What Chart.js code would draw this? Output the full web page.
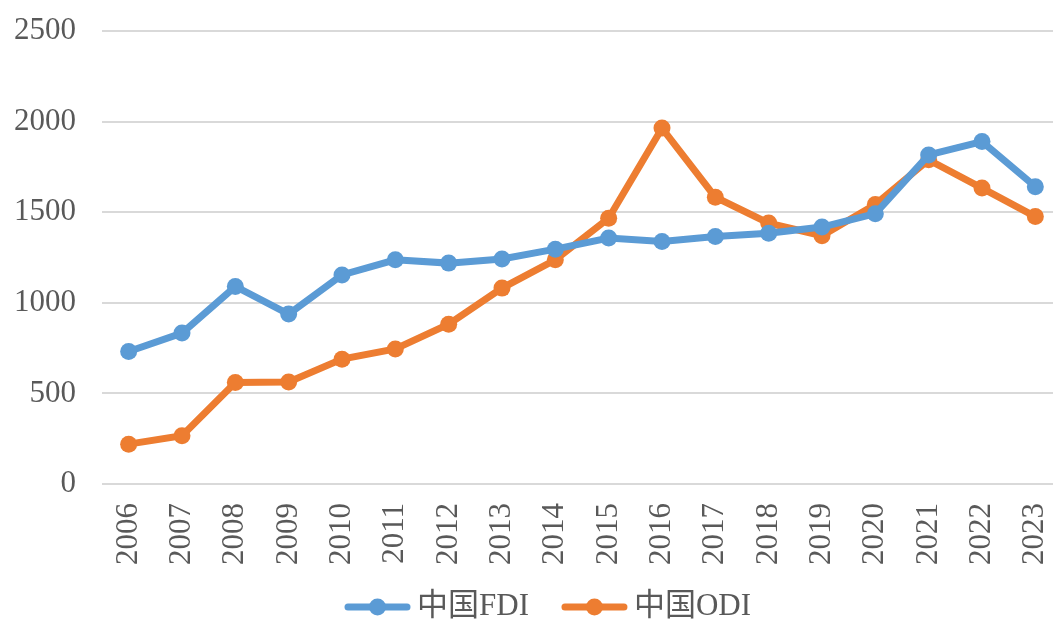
<!DOCTYPE html>
<html>
<head>
<meta charset="utf-8">
<script src="https://cdn.jsdelivr.net/npm/chart.js@4"></script>
<style>
  html, body { margin: 0; padding: 0; background: #fff; overflow: hidden; }
</style>
</head>
<body>
<canvas id="myChart" width="1053" height="626"></canvas>
<script>
var years = ['2006','2007','2008','2009','2010','2011','2012','2013','2014',
             '2015','2016','2017','2018','2019','2020','2021','2022','2023'];
var fdi = [731, 833, 1090, 938, 1154, 1237, 1219, 1242, 1296,
           1357, 1338, 1366, 1384, 1418, 1492, 1816, 1890, 1641];
var odi = [220, 266, 560, 563, 689, 745, 882, 1081, 1237,
           1467, 1964, 1583, 1440, 1370, 1543, 1789, 1633, 1476];

var blue = '#5b9bd5';
var orange = '#ed7d31';
var textColor = '#595959';
var fontFamily = '"Liberation Serif", "Times New Roman", "Noto Sans CJK SC", serif';

// the plot area in the source runs a little past the right edge of the picture
var plotRight = 1062;
var stretchArea = {
  id: 'stretchArea',
  afterLayout: function (chart) {
    var a = chart.chartArea;
    a.right = plotRight;
    a.width = a.right - a.left;
    var x = chart.scales.x;
    x.right = plotRight;
    x.width = x.right - x.left;
    x.configure();
  }
};

// legend drawn by hand: line with a dot, then the label
var lineLegend = {
  id: 'lineLegend',
  afterDraw: function (chart) {
    var c = chart.ctx;
    var y = 607;
    var x = 345;
    c.save();
    c.font = '31px ' + fontFamily;
    c.textBaseline = 'middle';
    c.textAlign = 'left';
    chart.data.datasets.forEach(function (ds) {
      c.strokeStyle = ds.borderColor;
      c.fillStyle = ds.borderColor;
      c.lineWidth = 7;
      c.lineCap = 'round';
      c.beginPath(); c.moveTo(x + 3, y); c.lineTo(x + 62, y); c.stroke();
      c.beginPath(); c.arc(x + 32.5, y, 8.5, 0, Math.PI * 2); c.fill();
      c.fillStyle = textColor;
      c.fillText(ds.label, x + 72, y);
      x += 72 + c.measureText(ds.label).width + 33;
    });
    c.restore();
  }
};

var ctx = document.getElementById('myChart').getContext('2d');
var myChart = new Chart(ctx, {
  type: 'line',
  data: {
    labels: years,
    datasets: [{
      label: '中国FDI',
      data: fdi,
      borderColor: blue,
      backgroundColor: blue,
      borderWidth: 7,
      pointRadius: 8.5,
      pointHoverRadius: 8.5,
      pointBorderWidth: 0,
      tension: 0
    }, {
      label: '中国ODI',
      data: odi,
      borderColor: orange,
      backgroundColor: orange,
      borderWidth: 7,
      pointRadius: 8.5,
      pointHoverRadius: 8.5,
      pointBorderWidth: 0,
      tension: 0
    }]
  },
  plugins: [stretchArea, lineLegend],
  options: {
    responsive: false,
    animation: false,
    layout: { padding: { left: 0, top: 31, right: 0, bottom: 62 } },
    plugins: {
      tooltip: { enabled: false },
      legend: { display: false }
    },
    scales: {
      x: {
        offset: true,
        grid: { display: false, drawTicks: false },
        border: { display: false },
        ticks: {
          minRotation: 90,
          maxRotation: 90,
          padding: 19,
          color: textColor,
          font: { family: fontFamily, size: 31 }
        },
        afterFit: function (s) {
          s.height = 80;
          s.paddingLeft = 0;
          s.paddingRight = 0;
        }
      },
      y: {
        min: 0,
        max: 2500,
        grid: { color: '#d9d9d9', lineWidth: 2, drawTicks: false },
        border: { display: false },
        ticks: {
          stepSize: 500,
          padding: 26,
          color: textColor,
          font: { family: fontFamily, size: 31 },
          callback: function (v) { return String(v); }
        },
        afterFit: function (s) {
          s.width = 102;
          s.paddingTop = 0;
          s.paddingBottom = 0;
        }
      }
    }
  }
});
</script>
</body>
</html>
